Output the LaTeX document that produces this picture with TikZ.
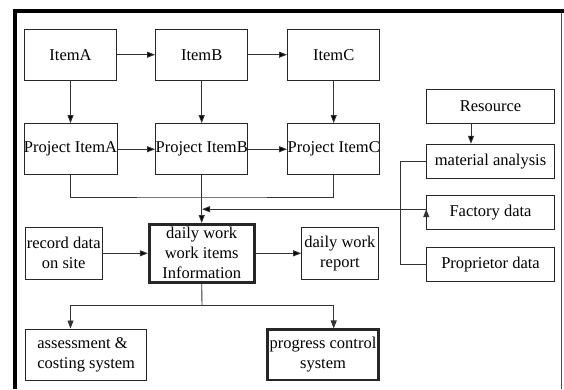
\documentclass[tikz,border=0pt]{standalone}
\usepackage{fontspec}
\setmainfont{Liberation Serif}
\usetikzlibrary{arrows.meta,positioning}

\begin{document}
\begin{tikzpicture}[x=1pt,y=-1pt,on grid,>={Triangle[length=8pt,width=6pt]},
	box/.style={draw=black!85,line width=0.9pt,inner sep=0pt,align=center,font=\fontsize{16.5}{20}\selectfont},
	itembox/.style={box,minimum width=92.4pt,minimum height=51.3pt},
	srcbox/.style={box,minimum width=127.6pt,minimum height=34pt},
	midbox/.style={box,minimum width=76.5pt,minimum height=51.6pt},
	thickbox/.style={box,line width=2.6pt},
	line/.style={draw=black!80,line width=0.9pt}]
			\useasboundingbox (0,0) rectangle (564,389);
			\draw[line width=4.6pt] (15,389) -- (15,10.8) -- (564,10.8);
			\draw[black!70,line width=0.8pt] (561,13) -- (561,389);
			\node[itembox](itemA) at (70.5,54.7) {ItemA};
			\node[itembox](itemB)[right=131.2pt of itemA] {ItemB};
			\node[itembox](itemC)[right=132pt of itemB] {ItemC};
			\node[itembox](prjA)[below=94.5pt of itemA] {Project ItemA};
			\node[itembox](prjB)[below=94.5pt of itemB] {Project ItemB};
			\node[itembox](prjC)[below=94.5pt of itemC] {Project ItemC};
			\node[srcbox](res) at (490.5,106.3) {Resource};
			\node[srcbox](mat)[below=54.9pt of res] {material analysis};
			\node[srcbox](fac)[below=51pt of mat] {Factory data};
			\node[srcbox](prop)[below=52pt of fac] {Proprietor data};
			\node[thickbox,minimum width=105pt,minimum height=58pt](daily)[below=104.1pt of prjB] {daily work\\work items\\Information};
			\node[midbox](rec)[left=138pt of daily] {record data\\on site};
			\node[midbox](rep)[right=138.2pt of daily] {daily work\\report};
			\node[box,align=left,minimum width=121pt,minimum height=51.7pt](cost) at (86.2,354.8) {assessment \&\\costing system};
			\node[thickbox,line width=2.2pt,minimum width=111pt,minimum height=50.5pt](prog) at (323,354.8) {progress control\\system};
			\coordinate (bus) at (202,197);
			\coordinate (split) at (202,305);
			\path[line,->]
			(itemA) edge (itemB)
			(itemB) edge (itemC)
			(itemA) edge (prjA)
			(itemB) edge (prjB)
			(itemC) edge (prjC)
			(prjA) edge (prjB)
			(prjB) edge (prjC)
			(prjB) edge (daily)
			(rec) edge (daily)
			(daily) edge (rep)
			([xshift=-19.5pt]res.south) edge ([xshift=-19.5pt]mat.north)
			([yshift=3pt]fac.west) edge ([yshift=3pt]fac.west -| bus);
			\draw[line] (prjA.south) |- (bus) -| (prjC.south);
			\draw[line] (mat.west) -- ++(-25.7,0) |- (prop.west);
			\draw[line] (daily.south) -- (split);
			\draw[line,->] (split) -| (cost.north -| prjA);
			\draw[line,->] (split) -| (prog.north -| prjC);
		\end{tikzpicture}
\end{document}
